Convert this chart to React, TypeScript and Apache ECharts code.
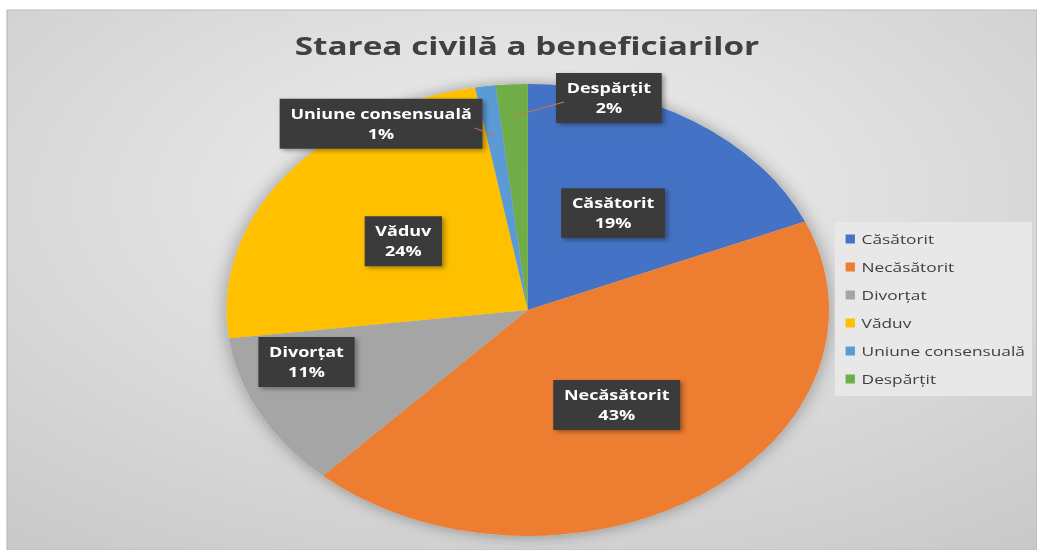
import React, { useEffect, useRef } from 'react';
import * as echarts from 'echarts';

const categories = ['Căsătorit', 'Necăsătorit', 'Divorțat', 'Văduv', 'Uniune consensuală', 'Despărțit'];
const values = [18.6, 43.3, 11.1, 24.2, 1.1, 1.7];
const colors = ['#4472C4', '#ED7D31', '#A5A5A5', '#FFC000', '#5B9BD5', '#70AD47'];
const titleText = 'Starea civilă a beneficiarilor';
// label placement: null = inside (mid-radius); otherwise [radius fraction, angle clockwise from top]
const labelSpots: (number[] | null)[] = [null, null, [0.77, 252.6], null, [0.957, 329.4], [0.976, 16.0]];
// leader lines: radius fraction of the anchor inside the slice (null = no leader line)
const leaderAnchors: (number | null)[] = [null, null, null, null, 0.78, 0.86];

const PAGE_W = 1037;
const PAGE_H = 550;
const INNER_W = 778;
const SCALE = PAGE_W / INNER_W;
const CENTER = [396, 310];
const RADIUS = 226;
const FONT = '"Open Sans", "Noto Sans", sans-serif';
const LABEL_SIZE = 13.5;
const LABEL_PAD_X = 8;

export default function App() {
  const ref = useRef<HTMLDivElement>(null);
  useEffect(() => {
    if (!ref.current) return;
    const chart = echarts.init(ref.current, null, { renderer: 'svg' });
    const total = values.reduce((a, b) => a + b, 0);
    const cumBefore = values.map((_, i) => values.slice(0, i).reduce((a, b) => a + b, 0));
    const pctText = (v: number) => `${Math.round((v / total) * 100)}%`;

    const canvas = document.createElement('canvas');
    const ctx = canvas.getContext('2d') as CanvasRenderingContext2D;
    ctx.font = `bold ${LABEL_SIZE}px ${FONT}`;

    const spotXY = (i: number) => {
      const spot = labelSpots[i] as number[];
      const a = (spot[1] * Math.PI) / 180;
      return [CENTER[0] + spot[0] * RADIUS * Math.sin(a), CENTER[1] - spot[0] * RADIUS * Math.cos(a)];
    };

    const leaderLines: any[] = [];
    categories.forEach((name, i) => {
      const rf = leaderAnchors[i];
      if (rf == null || !labelSpots[i]) return;
      const [lx, ly] = spotXY(i);
      const w = Math.max(ctx.measureText(name).width, ctx.measureText(pctText(values[i])).width) + LABEL_PAD_X * 2;
      const mid = ((cumBefore[i] + values[i] / 2) / total) * Math.PI * 2;
      const ax = CENTER[0] + rf * RADIUS * Math.sin(mid);
      const ay = CENTER[1] - rf * RADIUS * Math.cos(mid);
      const sx = ax > lx ? lx + w / 2 - 6 : lx - w / 2 + 6;
      leaderLines.push({
        type: 'line',
        silent: true,
        z: 10,
        shape: { x1: sx, y1: ly + 4, x2: ax, y2: ay },
        style: { stroke: '#c0774f', lineWidth: 1 },
      });
    });

    const data = categories.map((name, i) => ({
      name,
      value: values[i],
      itemStyle: { color: colors[i] },
    }));

    chart.setOption({
      animation: false,
      graphic: [
        {
          type: 'rect',
          silent: true,
          z: -10,
          shape: { x: 5.3, y: 10, width: INNER_W - 5.3, height: PAGE_H - 10 },
          style: {
            fill: {
              type: 'radial',
              x: 0.5,
              y: 0.35,
              r: 0.95,
              colorStops: [
                { offset: 0, color: '#f0f0f0' },
                { offset: 1, color: '#c2c2c2' },
              ],
            },
            stroke: '#bdbdbd',
            lineWidth: 1,
          },
        },
        {
          type: 'text',
          x: 395.3,
          y: 46,
          silent: true,
          style: {
            text: titleText,
            fill: '#404040',
            font: `bold 25px ${FONT}`,
            textAlign: 'center',
            textVerticalAlign: 'middle',
            align: 'center',
            verticalAlign: 'middle',
          },
        },
        ...leaderLines,
      ],
      legend: {
        orient: 'vertical',
        left: 626.4,
        top: 222,
        data: categories,
        icon: 'rect',
        itemWidth: 7,
        itemHeight: 9,
        itemGap: 10,
        padding: [8, 5, 8, 8],
        backgroundColor: '#e8e8e8',
        textStyle: { fontFamily: FONT, fontSize: 13, color: '#404040', lineHeight: 18 },
      },
      series: [
        {
          type: 'pie',
          name: 'shadow',
          silent: true,
          z: 1,
          center: CENTER,
          radius: RADIUS,
          label: { show: false },
          labelLine: { show: false },
          data: [{ value: total, name: '' }],
          itemStyle: { color: '#c8c8c8', shadowBlur: 14, shadowColor: 'rgba(0,0,0,0.35)' },
          emphasis: { disabled: true },
        },
        {
          type: 'pie',
          name: 'Starea civilă',
          z: 2,
          center: CENTER,
          radius: RADIUS,
          startAngle: 90,
          clockwise: true,
          avoidLabelOverlap: false,
          itemStyle: { borderWidth: 0 },
          emphasis: { disabled: true },
          label: {
            show: true,
            position: 'inside',
            formatter: (p: any) => `${p.name}\n${pctText(p.value)}`,
            color: '#ffffff',
            fontFamily: FONT,
            fontWeight: 'bold',
            fontSize: LABEL_SIZE,
            lineHeight: 20,
            align: 'center',
            padding: [5, LABEL_PAD_X, 5, LABEL_PAD_X],
            backgroundColor: '#3a3a3a',
            shadowBlur: 4,
            shadowOffsetX: 2,
            shadowOffsetY: 2,
            shadowColor: 'rgba(0,0,0,0.35)',
          },
          labelLine: { show: false },
          labelLayout: (params: any) => {
            const i = params.dataIndex;
            if (!labelSpots[i]) return {};
            const [x, y] = spotXY(i);
            return { x, y, align: 'center', verticalAlign: 'middle' };
          },
          data,
        },
      ],
    });
    return () => chart.dispose();
  }, []);

  return (
    <div
      style={{
        position: 'absolute',
        left: 0,
        top: 0,
        width: PAGE_W,
        height: PAGE_H,
        overflow: 'hidden',
        background: '#ffffff',
      }}
    >
      <div
        ref={ref}
        style={{
          width: INNER_W,
          height: PAGE_H,
          transform: `scaleX(${SCALE})`,
          transformOrigin: '0 0',
        }}
      />
    </div>
  );
}
